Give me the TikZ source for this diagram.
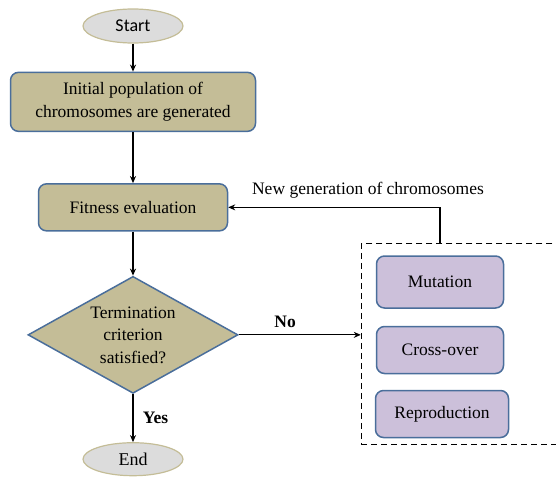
\documentclass[tikz,border=0pt]{standalone}
\usepackage{fontspec}
\setmainfont{Liberation Serif}
\newfontfamily\startfont{Carlito}
\usepackage{xcolor}
\usepackage{tikz}
\usetikzlibrary{positioning, arrows.meta, shapes.geometric}

\definecolor{tanfill}{HTML}{C4BD97}
\definecolor{boxline}{HTML}{4A6E9B}
\definecolor{greyfill}{HTML}{DCDCDC}
\definecolor{lilac}{HTML}{CCC0DA}

\begin{document}
\begin{tikzpicture}[x=1pt, y=1pt, node distance=30pt and 30pt]

			% Styles
			\tikzset{
				terminal/.style={
					ellipse, draw=tanfill, line width=1.2pt, fill=greyfill,
					minimum width=100pt, minimum height=34pt, inner sep=0pt,
					font=\fontsize{18}{20}\selectfont
				},
				stage/.style={
					rectangle, draw=boxline, rounded corners=8pt, line width=1.5pt,
					fill=tanfill, align=center, inner sep=0pt,
					font=\fontsize{17.5}{23}\selectfont
				},
				decision/.style={
					diamond, aspect=1.8, draw=boxline, line width=1.5pt, fill=tanfill,
					minimum width=210pt, minimum height=117pt, inner sep=0pt,
					align=center, font=\fontsize{17.5}{22.5}\selectfont
				},
				operator/.style={
					rectangle, draw=boxline, rounded corners=8pt, line width=1.5pt,
					fill=lilac, minimum height=47pt, inner sep=0pt,
					font=\fontsize{17.5}{21}\selectfont
				},
				group/.style={
					rectangle, draw, dashed, dash pattern=on 6pt off 4pt,
					line width=1.2pt, minimum width=210pt, minimum height=201pt
				},
				arrow/.style={line width=1.2pt, -{Stealth[length=7pt, width=6pt]}},
				answer/.style={font=\bfseries\fontsize{17.5}{21}\selectfont}
			}

			\useasboundingbox (0,0) rectangle (556,-477);

			% Main column
			\node (start) [terminal] at (133,-26) {\startfont Start};
			\node (init) [stage, minimum width=245pt, minimum height=59pt, below=28pt of start]
				{Initial population of\\chromosomes are generated};
			\node (fitness) [stage, minimum width=189pt, minimum height=47pt, below=51pt of init]
				{Fitness evaluation};
			\node (test) [decision, below=44pt of fitness]
				{Termination\\criterion\\satisfied?};
			\node (finish) [terminal, minimum height=33pt, below=48pt of test] {End};

			% Genetic operators
			\node (ops) [group, right=122pt of test, yshift=-9.5pt] {};
			\node (mutation) [operator, minimum width=127pt, minimum height=52pt] at (440,-282) {Mutation};
			\node (crossover) [operator, minimum width=127pt] at (440,-350) {Cross-over};
			\node (reproduction) [operator, minimum width=133pt] at (442,-414) {Reproduction};

			% Arrows
			\draw[arrow] (start) -- (init);
			\draw[arrow] (init) -- (fitness);
			\draw[arrow] (fitness) -- (test);
			\draw[arrow] (test) -- node (yes) [answer, right=6pt] {Yes} (finish);
			\draw[arrow] (test.east) -- node (no) [answer, above=3pt, pos=0.38] {No} (test.east -| ops.west);
			\draw[arrow] (mutation.north |- ops.north) |- node (newgen) [above=5pt, pos=0.67, font=\fontsize{17.5}{21}\selectfont]
				{New generation of chromosomes} (fitness.east);

\end{tikzpicture}
\end{document}
